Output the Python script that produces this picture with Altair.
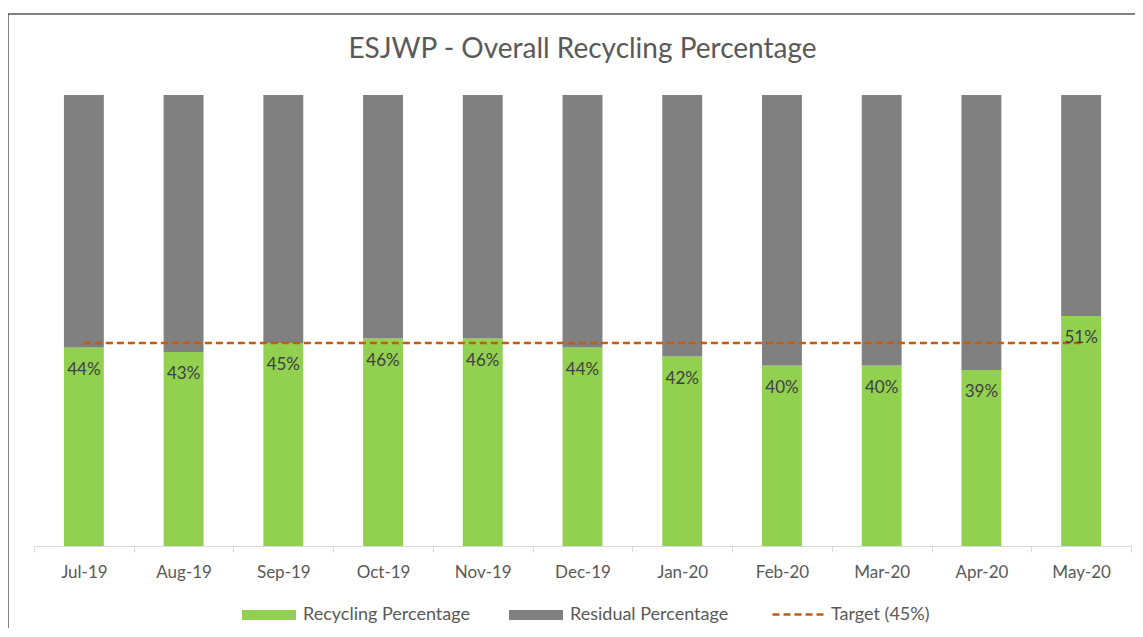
import altair as alt
import pandas as pd

# ---- data ----
months = ["Jul-19", "Aug-19", "Sep-19", "Oct-19", "Nov-19", "Dec-19",
          "Jan-20", "Feb-20", "Mar-20", "Apr-20", "May-20"]
recycling = [44, 43, 45, 46, 46, 44, 42, 40, 40, 39, 51]
target_value = 45
series_names = ["Recycling Percentage", "Residual Percentage"]
target_name = "Target (45%)"
y_ticks = [0, 10, 20, 30, 40, 50, 60, 70, 80, 90, 100]
title_text = "ESJWP - Overall Recycling Percentage"

colors = ["#92D050", "#808080"]
target_color = "#C55A11"
text_color = "#595959"
grid_color = "#D9D9D9"
FONT = "Lato"

residual = [100 - r for r in recycling]

rows = []
for m, r, s in zip(months, recycling, residual):
    rows.append({"month": m, "series": series_names[0], "value": r, "order": 0})
    rows.append({"month": m, "series": series_names[1], "value": s, "order": 1})
bars_df = pd.DataFrame(rows)

wide_df = pd.DataFrame({
    "month": months,
    "recycling": recycling,
    "target": [target_value] * len(months),
    "label": [f"{r}%" for r in recycling],
    "tname": [target_name] * len(months),
})

x_scale = alt.Scale(paddingInner=0, paddingOuter=0)
x_enc = alt.X(
    "month:N", sort=months, scale=x_scale,
    axis=alt.Axis(title=None, labelAngle=0, labelFontSize=17, labelColor=text_color,
                  labelFont=FONT, tickColor=grid_color, domainColor=grid_color,
                  tickSize=6, tickBand="extent", labelPadding=12, grid=False),
)
y_scale = alt.Scale(domain=[0, 100], nice=False)

border = alt.Chart(alt.Data(values=[{"b": 1}])).mark_rect(
    fill="white", fillOpacity=0, stroke="#595959", strokeWidth=1.5
).encode(
    x=alt.value(-26), x2=alt.value(1130), y=alt.value(-81), y2=alt.value(570)
)

title = alt.Chart(alt.Data(values=[{"t": title_text}])).mark_text(
    fontSize=28, font=FONT, color=text_color, baseline="middle", align="center"
).encode(
    x=alt.value(548.5), y=alt.value(-45), text="t:N"
)

bars = alt.Chart(bars_df).mark_bar(width=alt.RelativeBandSize(0.4)).encode(
    x=x_enc,
    y=alt.Y("value:Q", stack="zero", scale=y_scale,
            axis=alt.Axis(values=y_ticks, labels=False, ticks=False, domain=False,
                          title=None, grid=True, gridColor=grid_color, gridWidth=1)),
    color=alt.Color("series:N",
                    scale=alt.Scale(domain=series_names, range=colors),
                    legend=alt.Legend(orient="none", legendX=208, legendY=493,
                                      direction="horizontal", title=None,
                                      symbolType="M-1,-0.185H1V0.185H-1Z",
                                      symbolSize=2916, symbolStrokeWidth=0,
                                      labelFontSize=18, labelColor=text_color,
                                      labelFont=FONT, labelOffset=7, labelLimit=400,
                                      columnPadding=39, padding=0)),
    order=alt.Order("order:Q"),
)

line = alt.Chart(wide_df).mark_line(strokeDash=[7, 4], strokeWidth=2.5).encode(
    x=alt.X("month:N", sort=months, scale=x_scale),
    y=alt.Y("target:Q", scale=y_scale, axis=None),
    stroke=alt.Stroke("tname:N",
                      scale=alt.Scale(domain=[target_name], range=[target_color]),
                      legend=alt.Legend(orient="none", legendX=737, legendY=491,
                                        title=None, symbolType="stroke",
                                        symbolSize=2916, symbolDash=[7, 4],
                                        symbolStrokeWidth=2.5,
                                        labelFontSize=18, labelColor=text_color,
                                        labelFont=FONT, labelOffset=3, labelLimit=400,
                                        padding=0)),
)

labels = alt.Chart(wide_df).mark_text(
    dy=22, fontSize=17, color="#404040", font=FONT, baseline="middle"
).encode(
    x=alt.X("month:N", sort=months, scale=x_scale),
    y=alt.Y("recycling:Q", scale=y_scale, axis=None),
    text="label:N",
)

chart = alt.layer(border, title, bars, line, labels).properties(
    width=1097, height=451,
    autosize=alt.AutoSizeParams(type="none"),
    padding={"left": 26, "top": 87, "right": 4, "bottom": 82},
).configure_view(stroke=None)

chart.save("out.html", embed_options={"renderer": "svg", "actions": False})
